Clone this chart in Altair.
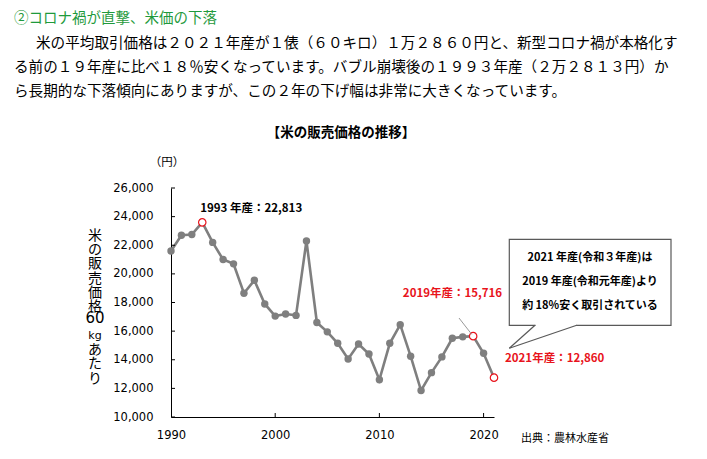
import altair as alt
import pandas as pd

# ---- data ----
years = list(range(1990, 2022))
prices = [21600, 22700, 22750, 23600, 22200, 21000, 20700, 18650, 19550, 17900,
          17050, 17200, 17100, 22300, 16600, 15950, 15150, 14050, 15100, 14400,
          12600, 15150, 16450, 14250, 11850, 13100, 14200, 15500, 15600, 15650,
          14450, 12750]
highlight_years = [1993, 2019, 2021]
x_ticks = [1990, 2000, 2010, 2020]
y_ticks = [10000, 12000, 14000, 16000, 18000, 20000, 22000, 24000, 26000]

heading = "②コロナ禍が直撃、米価の下落"
body_lines = [
    "米の平均取引価格は２０２１年産が１俵（６０キロ）１万２８６０円と、新型コロナ禍が本格化す",
    "る前の１９年産に比べ１８％安くなっています。バブル崩壊後の１９９３年産（２万２８１３円）か",
    "ら長期的な下落傾向にありますが、この２年の下げ幅は非常に大きくなっています。",
]
chart_title = "【米の販売価格の推移】"
unit_label = "（円）"
y_title_parts = ["米\nの\n販\n売\n価\n格", "60", "kg", "あ\nた\nり"]
label_1993 = "1993 年産：22,813"
label_2019 = "2019年産：15,716"
label_2021 = "2021年産：12,860"
callout_lines = "2021 年産(令和３年産)は\n2019 年産(令和元年産)より\n約 18%安く取引されている"
source = "出典：農林水産省"

df = pd.DataFrame({"year": years, "price": prices})
hl = df[df["year"].isin(highlight_years)]

W, H = 323, 229
JP = "Noto Sans CJK JP"
NUM = "DejaVu Sans"
GRAY = "#7f7f7f"
RED = "#e8141c"

xscale = alt.Scale(domain=[1990, 2021], nice=False, zero=False)
yscale = alt.Scale(domain=[10000, 26000], nice=False, zero=False)

AX_X = alt.Axis(values=x_ticks, format="d", title=None, ticks=False,
                grid=False, labelPadding=12, labelFlush=False,
                labelOverlap=False, domainColor="#000", labelFont=NUM,
                labelFontSize=11.5, labelColor="#000")
AX_Y = alt.Axis(values=y_ticks, format=",.0f", title=None, ticks=False,
                grid=False, labelPadding=18, labelFlush=False,
                labelOverlap=False, domainColor="#000", labelFont=NUM,
                labelFontSize=11.5, labelColor="#000")


def X(field="year:Q"):
    return alt.X(field, scale=xscale, axis=AX_X)


def Y(field="price:Q"):
    return alt.Y(field, scale=yscale, axis=AX_Y)


line = alt.Chart(df).mark_line(color=GRAY, strokeWidth=2.6).encode(x=X(), y=Y())

gray_pts = alt.Chart(df[~df["year"].isin(highlight_years)]).mark_circle(
    color=GRAY, size=55, opacity=1).encode(x=X(), y=Y())
red_fill = alt.Chart(hl).mark_circle(color="white", size=45, opacity=1).encode(
    x=X(), y=Y())
red_pts = alt.Chart(hl).mark_point(
    shape="circle", color=RED, filled=False, size=55,
    strokeWidth=1.2, opacity=1).encode(x=X(), y=Y())

# inward ticks
ytick_df = pd.DataFrame({"v": y_ticks})
yticks = alt.Chart(ytick_df).mark_rule(color="#000", strokeWidth=1).encode(
    y=Y("v:Q"), x=alt.value(0), x2=alt.value(4))
xtick_df = pd.DataFrame({"v": x_ticks[1:]})
xticks = alt.Chart(xtick_df).mark_rule(color="#000", strokeWidth=1).encode(
    x=X("v:Q"), y=alt.value(H), y2=alt.value(H - 4))


def txt(s, x, y, size, color="#000", weight="normal", align="left", font=JP,
        lh=None):
    kw = dict(align=align, baseline="middle", fontSize=size, color=color,
              fontWeight=weight, font=font, lineBreak="\n")
    if lh:
        kw["lineHeight"] = lh
    return alt.Chart(pd.DataFrame({"t": [s]})).mark_text(**kw).encode(
        x=alt.value(x), y=alt.value(y), text="t:N")


texts = [
    txt(heading, -157, -169, 14.5, color="#1f9a3c"),
    txt(body_lines[0], -135, -144, 14.6),
    txt(body_lines[1], -157, -120, 14.6),
    txt(body_lines[2], -157, -96, 14.6),
    txt(chart_title, 170, -55, 13.5, weight="bold", align="center"),
    txt(unit_label, -4, -25, 11.5, align="center"),
    txt(y_title_parts[0], -76, 47.7, 14, align="center", lh=14.3),
    txt(y_title_parts[1], -76, 130, 15, align="center", font=NUM),
    txt(y_title_parts[2], -76, 148, 11, align="center", font=NUM),
    txt(y_title_parts[3], -76, 162, 14, align="center", lh=14.3),
    txt(source, 350, 251, 11),
]


def ann(year, s, dx, dy, color, align):
    d = df[df["year"] == year]
    return alt.Chart(d.assign(t=s)).mark_text(
        align=align, baseline="middle", dx=dx, dy=dy, fontSize=11.5,
        fontWeight="bold", color=color, font=JP).encode(
        x=X(), y=Y(), text="t:N")


anns = [
    ann(1993, label_1993, -2, -13, "#000", "left"),
    ann(2019, label_2019, 29, -42, RED, "right"),
    ann(2021, label_2021, 11, -19, RED, "left"),
]

leader = alt.Chart(pd.DataFrame({"a": [0]})).mark_rule(
    color="#9a9a9a", strokeWidth=1).encode(
    x=alt.value(288), y=alt.value(130), x2=alt.value(300.7), y2=alt.value(146.3))

# callout box
one = pd.DataFrame({"a": [0]})
box = alt.Chart(one).mark_rect(fill="white", stroke="#595959",
                               strokeWidth=1.2).encode(
    x=alt.value(338.3), x2=alt.value(500), y=alt.value(51.3), y2=alt.value(137.3))
gap = alt.Chart(one).mark_rule(color="white", strokeWidth=2.5).encode(
    x=alt.value(364.6), x2=alt.value(405.1), y=alt.value(137.3), y2=alt.value(137.3))
tail1 = alt.Chart(one).mark_rule(color="#595959", strokeWidth=1.2).encode(
    x=alt.value(364), x2=alt.value(338.3), y=alt.value(137.3), y2=alt.value(160.3))
tail2 = alt.Chart(one).mark_rule(color="#595959", strokeWidth=1.2).encode(
    x=alt.value(405.7), x2=alt.value(338.3), y=alt.value(137.3), y2=alt.value(160.3))
callout_txt = txt(callout_lines, 419, 70.3, 11, weight="bold", align="center", lh=23.8)

chart = alt.layer(
    line, yticks, xticks, gray_pts, red_fill, red_pts, leader,
    box, gap, tail1, tail2, callout_txt, *anns, *texts
).properties(
    width=W, height=H,
    autosize=alt.AutoSizeParams(type="none"),
    padding={"left": 163, "top": 180, "right": 205, "bottom": 34},
    background="white",
).configure_view(stroke=None)

chart.save("out.html", embed_options={"renderer": "svg", "actions": False})
